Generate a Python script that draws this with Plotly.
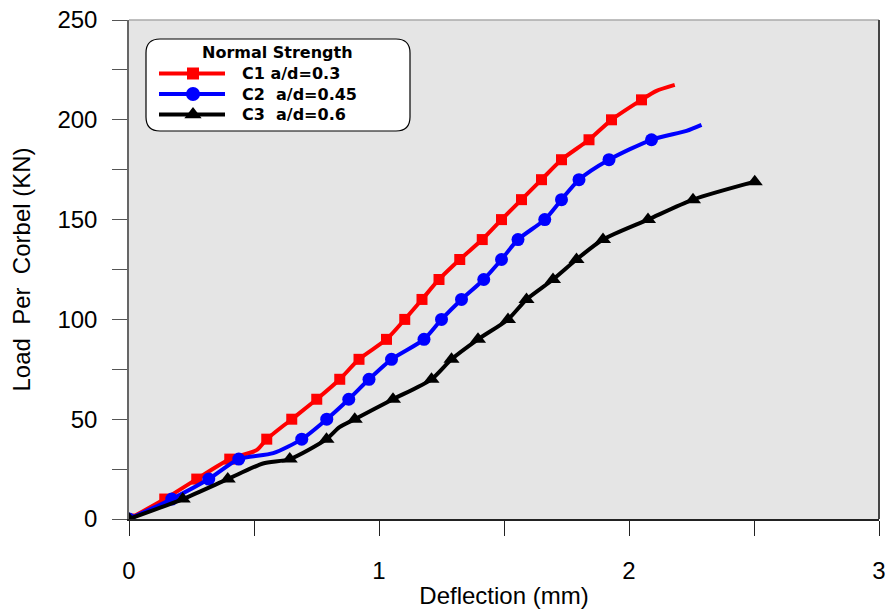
import plotly.graph_objects as go

# ---------------- data ----------------
loads_marked = [0, 10, 20, 30, 40, 50, 60, 70, 80, 90, 100, 110, 120, 130, 140,
                150, 160, 170, 180, 190, 200, 210]

c1_mx = [0, 0.143, 0.271, 0.403, 0.551, 0.651, 0.751, 0.843, 0.92, 1.03, 1.103,
         1.172, 1.24, 1.323, 1.413, 1.49, 1.57, 1.65, 1.73, 1.84, 1.93, 2.05]
c1_my = loads_marked[:22]
c1_ex = [0.51, 2.11, 2.183]
c1_ey = [34.5, 214.5, 217.5]

c2_mx = [0, 0.171, 0.319, 0.439, 0.691, 0.791, 0.879, 0.96, 1.05, 1.18, 1.25,
         1.33, 1.419, 1.49, 1.556, 1.663, 1.73, 1.80, 1.92, 2.09]
c2_my = loads_marked[:20]
c2_ex = [0.577, 2.23, 2.29]
c2_ey = [33, 194.5, 197.5]

c3_mx = [0, 0.215, 0.395, 0.643, 0.79, 0.903, 1.056, 1.21, 1.29, 1.396, 1.516,
         1.59, 1.696, 1.79, 1.896, 2.076, 2.256, 2.503]
c3_my = loads_marked[:17] + [169]
c3_ex = [0.536, 0.842]
c3_ey = [27.8, 46]

series_names = ["C1 a/d=0.3", "C2\u00a0 a/d=0.45", "C3\u00a0 a/d=0.6"]
series_colors = ["#ff0000", "#0000ff", "#000000"]
series_symbols = ["square", "circle", "triangle-up"]
series_msize = [11, 13, 14]
legend_title = "Normal Strength"

x_ticks = [0, 1, 2, 3]
y_ticks = [0, 50, 100, 150, 200, 250]

# ---------------- figure ----------------
W, H = 887, 610
ML, MR, MT, MB = 129, 8, 20, 91
PW, PH = W - ML - MR, H - MT - MB
XR, YR = [0, 3], [0, 250]


def px2x(px):
    return XR[0] + (px - ML) / PW * (XR[1] - XR[0])


def py2y(py):
    return YR[0] + (MT + PH - py) / PH * (YR[1] - YR[0])


fig = go.Figure()

series = [(c1_mx, c1_my, c1_ex, c1_ey), (c2_mx, c2_my, c2_ex, c2_ey),
          (c3_mx, c3_my, c3_ex, c3_ey)]

for i, (mx, my, ex, ey) in enumerate(series):
    pts = sorted(list(zip(mx, my)) + list(zip(ex, ey)), key=lambda p: (p[1], p[0]))
    fig.add_trace(go.Scatter(
        x=[p[0] for p in pts], y=[p[1] for p in pts], mode="lines",
        line=dict(color=series_colors[i], width=4, shape="spline", smoothing=0.7),
        showlegend=False, hoverinfo="skip"))
    fig.add_trace(go.Scatter(
        x=mx, y=my, mode="markers",
        marker=dict(symbol=series_symbols[i], size=series_msize[i],
                    color=series_colors[i], line=dict(width=0)),
        showlegend=False, name=series_names[i]))

# ---------------- custom legend ----------------
bx0, bx1, by0, by1, rad = 146, 410, 39, 131, 14


def xp(px):
    return (px - ML) / PW


def yp(py):
    return (MT + PH - py) / PH


rx, ry = rad / PW, rad / PH
path = (f"M {xp(bx0)+rx},{yp(by0)} L {xp(bx1)-rx},{yp(by0)} "
        f"Q {xp(bx1)},{yp(by0)} {xp(bx1)},{yp(by0)-ry} "
        f"L {xp(bx1)},{yp(by1)+ry} Q {xp(bx1)},{yp(by1)} {xp(bx1)-rx},{yp(by1)} "
        f"L {xp(bx0)+rx},{yp(by1)} Q {xp(bx0)},{yp(by1)} {xp(bx0)},{yp(by1)+ry} "
        f"L {xp(bx0)},{yp(by0)-ry} Q {xp(bx0)},{yp(by0)} {xp(bx0)+rx},{yp(by0)} Z")

shapes = [dict(type="path", path=path, xref="paper", yref="paper",
               line=dict(color="#000000", width=1.2), fillcolor="#ffffff", layer="below")]

annotations = [dict(text=f"<b>{legend_title}</b>", xref="paper", yref="paper",
                    x=xp(277), y=yp(53), showarrow=False, xanchor="center", yanchor="middle",
                    font=dict(family="DejaVu Sans", size=16, color="#000000"))]

item_py = [73.5, 94, 114.5]
for i in range(3):
    fig.add_trace(go.Scatter(
        x=[px2x(159), px2x(193), px2x(225)], y=[py2y(item_py[i])] * 3,
        mode="lines", line=dict(color=series_colors[i], width=4),
        showlegend=False, hoverinfo="skip", cliponaxis=False))
    fig.add_trace(go.Scatter(
        x=[px2x(193)], y=[py2y(item_py[i])], mode="markers",
        marker=dict(symbol=series_symbols[i], size=series_msize[i] + 1,
                    color=series_colors[i], line=dict(width=0)),
        showlegend=False, hoverinfo="skip", cliponaxis=False))
    annotations.append(dict(text=f"<b>{series_names[i]}</b>", xref="paper", yref="paper",
                            x=xp(240), y=yp(item_py[i]), showarrow=False,
                            xanchor="left", yanchor="middle",
                            font=dict(family="DejaVu Sans", size=16, color="#000000")))

# frame lines
shapes += [
    dict(type="line", xref="paper", yref="paper", x0=0, x1=1, y0=1, y1=1,
         line=dict(color="#aaaaaa", width=1.5), layer="above"),
    dict(type="line", xref="paper", yref="paper", x0=1, x1=1, y0=0, y1=1,
         line=dict(color="#444444", width=2), layer="above"),
]

fig.update_layout(
    width=W, height=H,
    margin=dict(l=ML, r=MR, t=MT, b=MB, autoexpand=False),
    paper_bgcolor="#ffffff", plot_bgcolor="#e5e5e5",
    shapes=shapes, annotations=annotations,
    font=dict(family="Liberation Sans, Arial, sans-serif", color="#000000"),
    xaxis=dict(range=XR, tickvals=x_ticks, ticktext=[str(v) for v in x_ticks],
               minor=dict(dtick=0.5, ticks="outside", ticklen=15, tickcolor="#222222",
                          tickwidth=1.2, showgrid=False),
               ticks="outside", ticklen=15, tickwidth=1.2, tickcolor="#222222",
               showline=True, linecolor="#222222", linewidth=1.5, automargin=False,
               showgrid=False, zeroline=False, ticklabelstandoff=14,
               tickfont=dict(size=24),
               title=dict(text="Deflection (mm)", font=dict(size=24), standoff=5)),
    yaxis=dict(range=YR, tickvals=y_ticks, ticktext=[str(v) for v in y_ticks],
               minor=dict(dtick=25, ticks="outside", ticklen=15, tickcolor="#555555",
                          tickwidth=1.2, showgrid=False),
               ticks="outside", ticklen=15, tickwidth=1.2, tickcolor="#555555",
               showline=True, linecolor="#666666", linewidth=1.5, automargin=False,
               showgrid=False, zeroline=False, ticklabelstandoff=10,
               tickfont=dict(size=24),
               title=dict(text="Load\u00a0 Per\u00a0 Corbel (KN)", font=dict(size=24),
                          standoff=20)),
)

fig.write_html("out.html")
